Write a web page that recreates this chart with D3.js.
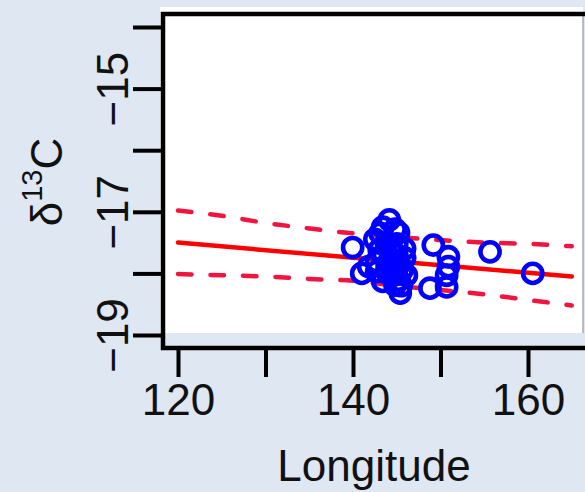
<!DOCTYPE html>
<html>
<head>
<meta charset="utf-8">
<script src="https://cdn.jsdelivr.net/npm/d3@7"></script>
<style>
  html, body { margin: 0; padding: 0; background: #dee7f2; }
  svg { display: block; }
  text { font-family: "Liberation Sans", Arial, sans-serif; fill: #111; }
</style>
</head>
<body>
<svg id="chart" width="585" height="492"></svg>
<script>
// Stable isotope ratio against longitude of sampling site
const longitude = [
  139.96, 144.15, 143.4, 144.8, 143.1, 145.2, 142.5, 143.8, 145.0, 145.9,
  144.6, 143.5, 142.7, 144.2, 145.9, 145.3, 141.0, 141.8, 142.7, 144.2,
  146.1, 143.4, 145.2, 144.8, 145.4, 144.0, 145.6, 143.0, 144.5, 145.0,
  143.9, 144.9, 144.3, 145.5,
  149.18, 150.9, 150.9, 150.7, 148.8, 150.7,
  155.66, 160.54
];
const d13C = [
  -17.58, -17.13, -17.25, -17.28, -17.35, -17.34, -17.45, -17.50, -17.52, -17.60,
  -17.65, -17.70, -17.81, -17.78, -17.75, -17.85, -18.00, -17.89, -17.97, -17.92,
  -18.03, -18.13, -18.11, -18.19, -18.32, -18.00, -17.95, -17.62, -17.85, -17.70,
  -17.90, -18.00, -17.58, -18.20,
  -17.54, -17.73, -17.89, -18.03, -18.24, -18.22,
  -17.65, -18.00
];

// Fitted regression line and its band
const fitLon = [120, 165];
const fitVal = [-17.50, -18.05];
const bandLon = [120, 125, 130, 135, 140, 145, 150, 155, 160, 165];
const bandUpper = [-16.98, -17.065, -17.18, -17.27, -17.35, -17.41, -17.46, -17.50, -17.52, -17.56];
const bandLower = [-18.01, -18.03, -18.05, -18.09, -18.12, -18.20, -18.27, -18.34, -18.43, -18.52];

// Axis ticks
const xTicks = [120, 130, 140, 150, 160];
const xTickLabels = [120, 140, 160];
const yTicks = [-19, -18, -17, -16, -15, -14];
const yTickLabels = [-19, -17, -15];

const svg = d3.select("#chart");

const x = d3.scaleLinear().domain([120, 160]).range([178, 528]);
const y = d3.scaleLinear().domain([-19, -14]).range([335, 27]);

// Box edges
const boxL = 163, boxT = 14, boxB = 348, boxR = 585;

// Plot panel
svg.append("rect")
  .attr("x", 160).attr("y", 7)
  .attr("width", 423).attr("height", 326)
  .attr("fill", "#ffffff");
svg.append("line")
  .attr("x1", 583).attr("x2", 583).attr("y1", boxT).attr("y2", 333)
  .attr("stroke", "#a8a8a8").attr("stroke-width", 1.5);

const plot = svg.append("g");

const line = d3.line().x(d => x(d[0])).y(d => y(d[1]));
const lineCurve = d3.line().x(d => x(d[0])).y(d => y(d[1])).curve(d3.curveMonotoneX);

// Band (dashed)
[bandUpper, bandLower].forEach(vals => {
  plot.append("path")
    .attr("d", lineCurve(bandLon.map((lon, i) => [lon, vals[i]])))
    .attr("fill", "none")
    .attr("stroke", "#f0143f")
    .attr("stroke-width", 4.5)
    .attr("stroke-linecap", "round")
    .attr("stroke-dasharray", "13.5,19");
});

// Fitted line
plot.append("path")
  .attr("d", line(fitLon.map((lon, i) => [lon, fitVal[i]])))
  .attr("fill", "none")
  .attr("stroke", "#ff0000")
  .attr("stroke-width", 4.5)
  .attr("stroke-linecap", "round");

// Observations
plot.selectAll("circle.obs")
  .data(longitude.map((lon, i) => [lon, d13C[i]]))
  .join("circle")
  .attr("class", "obs")
  .attr("cx", d => x(d[0]))
  .attr("cy", d => y(d[1]))
  .attr("r", 9.6)
  .attr("fill", "none")
  .attr("stroke", "#0000ff")
  .attr("stroke-width", 4.6);

// Axes
const yAxis = d3.axisLeft(y)
  .tickValues(yTicks)
  .tickSize(30)
  .tickFormat(d => yTickLabels.includes(d) ? "\u2212" + Math.abs(d) : "");
const gy = svg.append("g").attr("transform", `translate(${boxL},0)`).call(yAxis);
gy.select(".domain").remove();
gy.selectAll(".tick line").attr("stroke", "#000").attr("stroke-width", 4);
gy.selectAll(".tick text")
  .attr("x", null).attr("dy", null)
  .attr("transform", "translate(-35,0) rotate(-90)")
  .attr("text-anchor", "middle")
  .style("font-size", "44px")
  .style("font-family", "'Liberation Sans', Arial, sans-serif")
  .attr("fill", "#111");

const xAxis = d3.axisBottom(x)
  .tickValues(xTicks)
  .tickSize(29)
  .tickFormat(d => xTickLabels.includes(d) ? String(d) : "");
const gx = svg.append("g").attr("transform", `translate(0,${boxB})`).call(xAxis);
gx.select(".domain").remove();
gx.selectAll(".tick line").attr("stroke", "#000").attr("stroke-width", 4);
gx.selectAll(".tick text")
  .attr("y", 67).attr("dy", null)
  .attr("text-anchor", "middle")
  .style("font-size", "44px")
  .style("font-family", "'Liberation Sans', Arial, sans-serif")
  .attr("fill", "#111");

// Box frame (left, top, bottom)
svg.append("path")
  .attr("d", `M${boxR},${boxT}H${boxL}V${boxB}H${boxR}`)
  .attr("fill", "none")
  .attr("stroke", "#000")
  .attr("stroke-width", 4.5)
  .attr("stroke-linejoin", "miter");

// Axis titles
svg.append("text")
  .attr("x", 374).attr("y", 481)
  .attr("text-anchor", "middle")
  .style("font-size", "44px")
  .text("Longitude");

const yt = svg.append("text")
  .attr("transform", "translate(62,182) rotate(-90)")
  .attr("text-anchor", "middle")
  .style("font-size", "44px");
yt.append("tspan").text("δ");
yt.append("tspan").attr("dy", -20).style("font-size", "29px").text("13");
yt.append("tspan").attr("dy", 20).text("C");
</script>
</body>
</html>
